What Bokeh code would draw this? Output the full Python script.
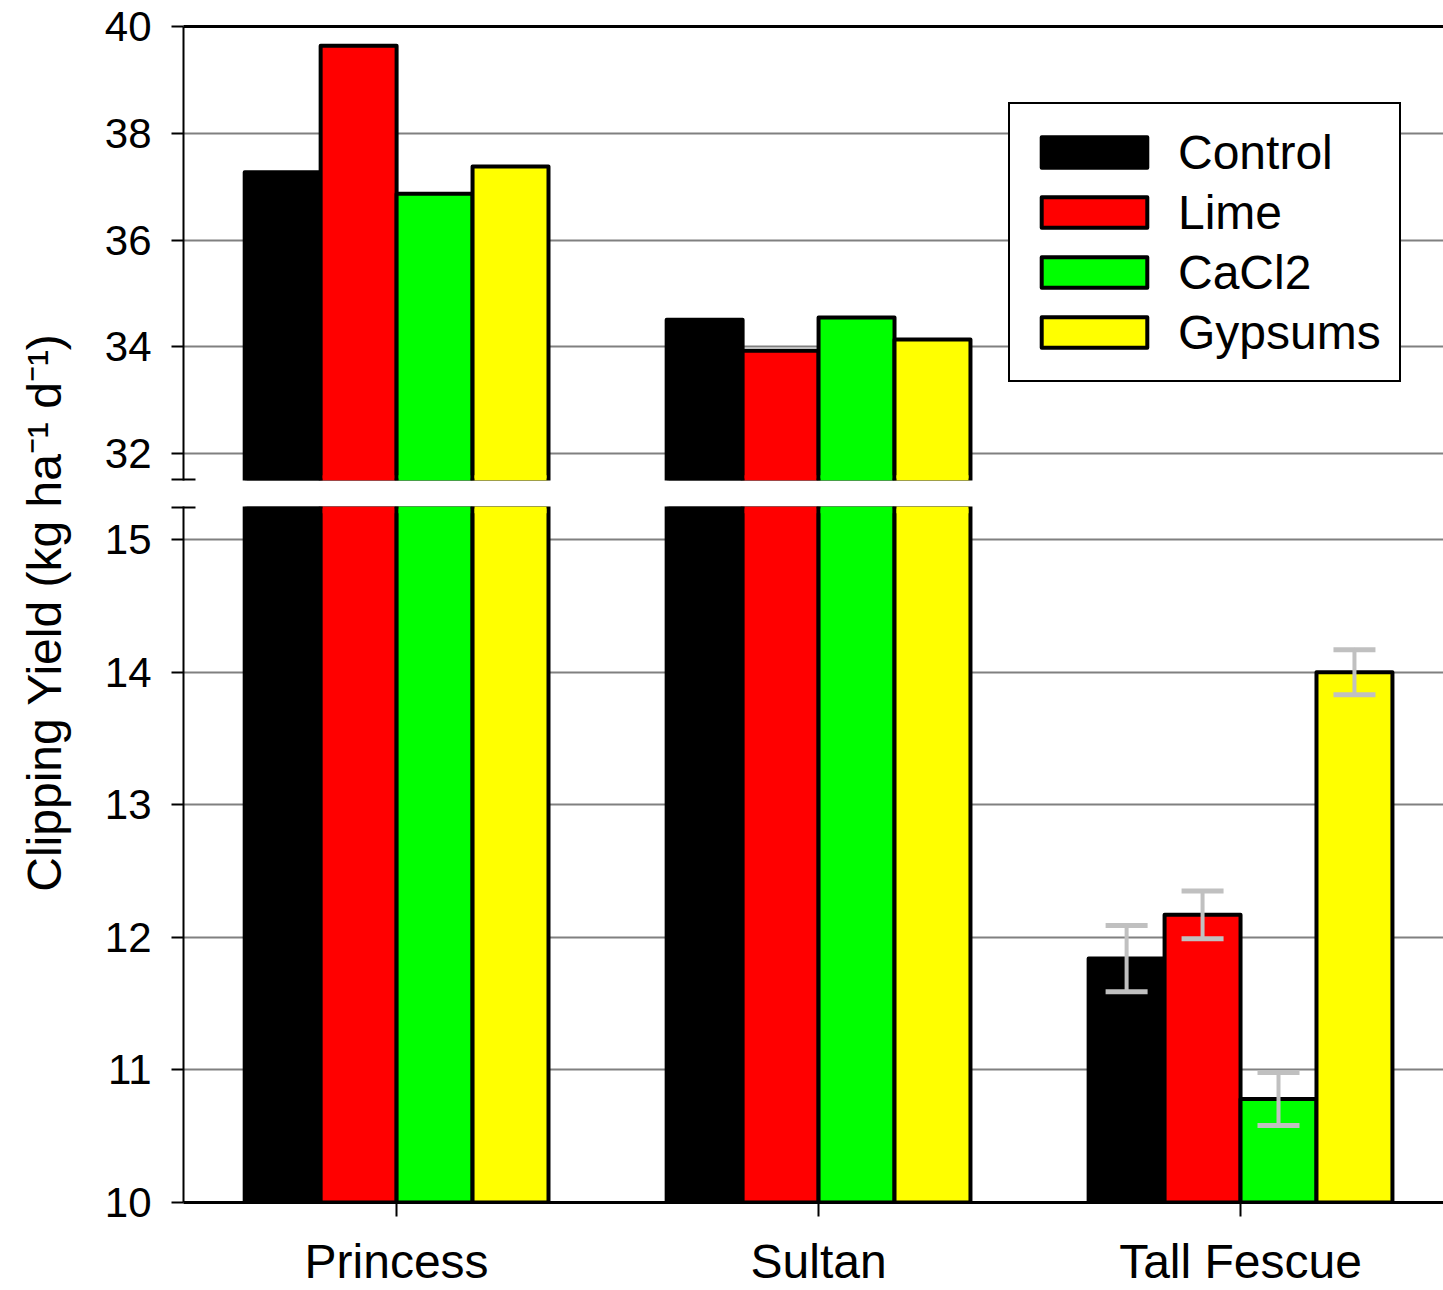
import math
from bokeh.plotting import figure
from bokeh.models import (ColumnDataSource, Range1d, FixedTicker, LinearAxis,
                          Legend, LegendItem, Whisker, TeeHead, CDSView, IndexFilter)
from bokeh.transform import dodge
from bokeh.layouts import row, column
from bokeh.core.properties import value
from bokeh.embed import file_html
from bokeh.resources import INLINE

# ---- data ----
categories = ["Princess", "Sultan", "Tall Fescue"]
treatments = ["Control", "Lime", "CaCl2", "Gypsums"]
control = [37.27, 34.51, 11.84]
lime = [39.64, 33.93, 12.17]
cacl2 = [36.87, 34.55, 10.78]
gypsums = [37.38, 34.14, 14.00]
# standard errors (only visible for Tall Fescue)
err_control = [0.25]
err_lime = [0.18]
err_cacl2 = [0.20]
err_gypsums = [0.17]
top_ticks = [32, 34, 36, 38, 40]
bottom_ticks = [10, 11, 12, 13, 14, 15]

series = [control, lime, cacl2, gypsums]
errors = [err_control, err_lime, err_cacl2, err_gypsums]
colors = ["#000000", "#ff0000", "#00ff00", "#ffff00"]
offsets = [-0.27, -0.09, 0.09, 0.27]
BAR_W = 0.18
FONT = "Liberation Sans"

TOP_LO, TOP_HI = 31.5, 40
BOT_LO, BOT_HI = 10, 15.25
FRAME_W = 1260
xr = Range1d(-0.505, 2.481)
px = (xr.end - xr.start) / FRAME_W      # data units per pixel
INNER_W = BAR_W - 4 * px                # fill-only cover inside the outline

def style_yaxis(p, ticks, cap):
    t = FixedTicker(ticks=ticks, minor_ticks=[cap])
    ax = p.yaxis[0]
    ax.ticker = t
    ax.axis_line_width = 2
    ax.major_tick_line_width = 2
    ax.major_tick_in = 0
    ax.major_tick_out = 12
    ax.minor_tick_line_width = 2
    ax.minor_tick_in = 12
    ax.minor_tick_out = 12
    ax.major_label_text_font = FONT
    ax.major_label_text_font_size = "42px"
    ax.major_label_text_color = "black"
    ax.major_label_standoff = 20
    p.ygrid.ticker = t
    p.ygrid.grid_line_color = "#808080"
    p.ygrid.grid_line_width = 2
    p.xgrid.visible = False

common = dict(x_range=xr, output_backend="svg", toolbar_location=None,
              width=95 + FRAME_W, min_border_left=95, min_border_right=0,
              background_fill_color="white", border_fill_color="white")

# ---- top panel ----
top = figure(height=493, y_range=Range1d(TOP_LO, TOP_HI), x_axis_location=None,
             min_border_top=26, min_border_bottom=13, **common)
top.outline_line_color = None
style_yaxis(top, top_ticks, TOP_LO + 0.01)
frame_top = LinearAxis(ticker=FixedTicker(ticks=[]), axis_line_width=3,
                       axis_line_color="black", major_tick_line_color=None,
                       minor_tick_line_color=None,
                       major_label_text_font_size="0px")
top.add_layout(frame_top, "above")

# ---- bottom panel ----
bot = figure(height=797, y_range=Range1d(BOT_LO, BOT_HI),
             min_border_top=13, min_border_bottom=88, **common)
bot.outline_line_color = None
style_yaxis(bot, bottom_ticks, BOT_HI - 0.01)
xa = bot.xaxis[0]
xa.ticker = FixedTicker(ticks=[0, 1, 2])
xa.major_label_overrides = {i: c for i, c in enumerate(categories)}
xa.axis_line_width = 3
xa.major_tick_line_width = 2
xa.major_tick_in = 0
xa.major_tick_out = 14
xa.minor_tick_line_color = None
xa.major_label_text_font = FONT
xa.major_label_text_font_size = "48px"
xa.major_label_text_color = "black"
xa.major_label_standoff = 18

src = ColumnDataSource(dict(x=list(range(len(categories))), control=control,
                            lime=lime, cacl2=cacl2, gypsums=gypsums))
keys = ["control", "lime", "cacl2", "gypsums"]
# categories whose bars cross the axis break
upper_idx = [i for i in range(len(categories)) if min(s[i] for s in series) > TOP_LO]
top_view = CDSView(filter=IndexFilter(upper_idx))
bot_cross_view = CDSView(filter=IndexFilter(upper_idx))

legend_items = []
for k, name, col, off in zip(keys, treatments, colors, offsets):
    xx = dodge("x", off, range=xr)
    rt = top.vbar(x=xx, top=k, bottom=28.0, width=BAR_W,
                  source=src, view=top_view, fill_color=col, line_color="black",
                  line_width=4, line_join="round")
    # hide the outline edge at the break
    top.vbar(x=xx, top=TOP_LO + 0.1, bottom=28.0, width=INNER_W, source=src,
             view=top_view, fill_color=col, line_color=None)
    bot.vbar(x=xx, top=k, bottom=BOT_LO, width=BAR_W,
             source=src, fill_color=col, line_color="black",
             line_width=4, line_join="round")
    bot.vbar(x=xx, top=k, bottom=BOT_HI - 0.05, width=INNER_W, source=src,
             view=bot_cross_view, fill_color=col, line_color=None)
    legend_items.append(LegendItem(label=name, renderers=[rt]))

# error bars for Tall Fescue
tf = categories.index("Tall Fescue")
for s, e, off in zip(series, errors, offsets):
    v = s[tf]
    es = ColumnDataSource(dict(base=[tf + off], upper=[v + e[0]], lower=[v - e[0]]))
    w = Whisker(base="base", upper="upper", lower="lower", source=es,
                line_color="#c0c0c0", line_width=4, line_cap="round",
                upper_head=TeeHead(size=42, line_color="#c0c0c0", line_width=5),
                lower_head=TeeHead(size=42, line_color="#c0c0c0", line_width=5),
                level="overlay")
    bot.add_layout(w)

legend = Legend(items=legend_items, location=(825, 98), margin=0,
                label_text_font=FONT, label_text_font_size="48px",
                label_text_color="black",
                glyph_width=132, glyph_height=38, label_standoff=18,
                label_height=60, spacing=0, padding=18,
                border_line_color="black", border_line_width=2,
                border_line_alpha=1.0,
                background_fill_color="white", background_fill_alpha=1)
top.add_layout(legend)

# ---- y label panel ----
lab = figure(width=88, height=1290, x_range=Range1d(0, 88), y_range=Range1d(0, 1290),
             x_axis_type=None, y_axis_type=None, output_backend="svg",
             toolbar_location=None, min_border=0)
lab.outline_line_color = None
lab.grid.visible = False
lab.text(x=[44], y=[678], text=["Clipping Yield (kg ha\u207b\u00b9 d\u207b\u00b9)"],
         angle=math.pi / 2, text_align="center", text_baseline="middle",
         text_font=value(FONT), text_font_size="48px", text_color="black")

layout = row(lab, column(top, bot))
open("out.html", "w").write(file_html(layout, INLINE))
